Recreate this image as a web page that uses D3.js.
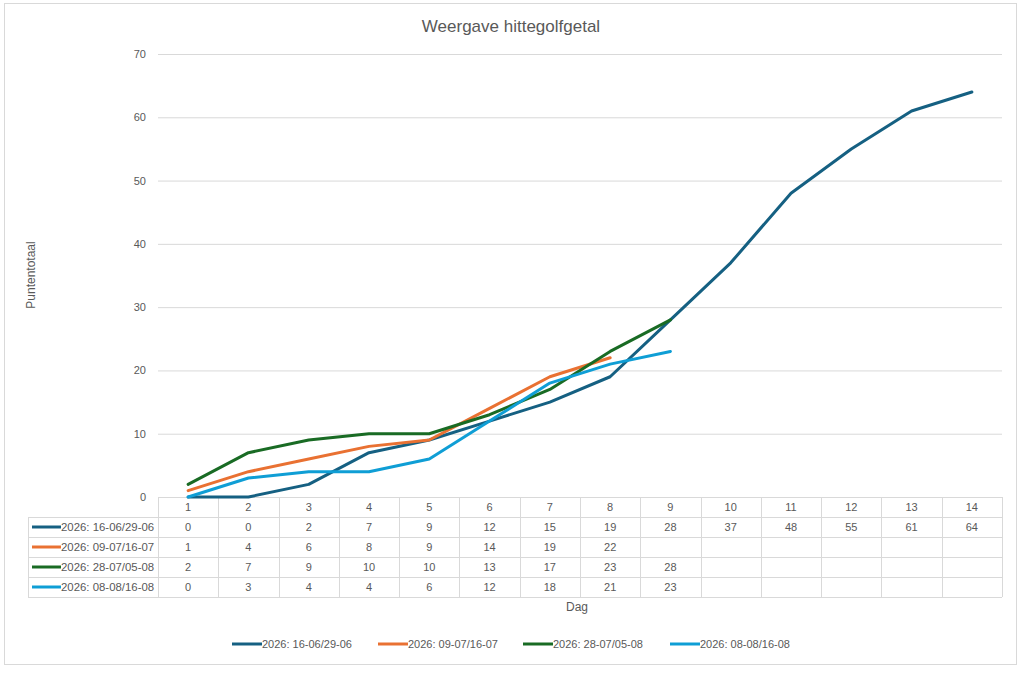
<!DOCTYPE html>
<html>
<head>
<meta charset="utf-8">
<script src="https://cdn.jsdelivr.net/npm/d3@7"></script>
<style>
body { margin: 0; background: #fff; }
text { font-family: "Liberation Sans", Arial, sans-serif; fill: #595959; }
</style>
</head>
<body>
<svg id="chart" width="1024" height="673"></svg>
<script>
// days along the x axis
var days = [1,2,3,4,5,6,7,8,9,10,11,12,13,14];
var seriesNames = ["2026: 16-06/29-06","2026: 09-07/16-07","2026: 28-07/05-08","2026: 08-08/16-08"];
var seriesColors = ["#156082","#E97132","#196B24","#0F9ED5"];
var s1 = [0,0,2,7,9,12,15,19,28,37,48,55,61,64];
var s2 = [1,4,6,8,9,14,19,22];
var s3 = [2,7,9,10,10,13,17,23,28];
var s4 = [0,3,4,4,6,12,18,21,23];
var yTicks = [0,10,20,30,40,50,60,70];

var allSeries = [s1, s2, s3, s4];

var svg = d3.select("#chart");

// outer chart border
svg.append("rect")
  .attr("x", 4.5).attr("y", 3.5)
  .attr("width", 1012).attr("height", 661)
  .attr("fill", "#fff").attr("stroke", "#d9d9d9");

var left = 158, right = 1002;
var x = d3.scaleBand().domain(days).range([left, right]);
var y = d3.scaleLinear().domain([0, 70]).range([497, 54]);

// gridlines
svg.append("g").selectAll("line")
  .data(yTicks.slice(1))
  .join("line")
  .attr("x1", left).attr("x2", right)
  .attr("y1", d => y(d) + 0.5).attr("y2", d => y(d) + 0.5)
  .attr("stroke", "#d9d9d9");

// y axis labels
var yAxis = d3.axisLeft(y).tickValues(yTicks).tickSize(0).tickPadding(12);
var gy = svg.append("g").attr("transform", "translate(" + left + ",0)").call(yAxis);
gy.select(".domain").remove();
gy.selectAll("text").style("font-size", "11px").attr("fill", "#595959")
  .attr("font-family", "Liberation Sans, Arial, sans-serif");

// table
var rowTop = 497, rowH = 20;
var tableLeft = 28;
var tbl = svg.append("g");
var gridColor = "#d9d9d9";

// horizontal lines
tbl.append("line").attr("x1", left).attr("x2", right)
  .attr("y1", rowTop + 0.5).attr("y2", rowTop + 0.5).attr("stroke", gridColor);
for (var r = 1; r <= 5; r++) {
  tbl.append("line").attr("x1", tableLeft).attr("x2", right)
    .attr("y1", rowTop + r * rowH + 0.5).attr("y2", rowTop + r * rowH + 0.5)
    .attr("stroke", gridColor);
}
// vertical lines
tbl.append("line").attr("x1", tableLeft + 0.5).attr("x2", tableLeft + 0.5)
  .attr("y1", rowTop + rowH).attr("y2", rowTop + 5 * rowH).attr("stroke", gridColor);
days.forEach(function(d) {
  var xx = Math.round(x(d)) + 0.5;
  tbl.append("line").attr("x1", xx).attr("x2", xx)
    .attr("y1", rowTop).attr("y2", rowTop + 5 * rowH).attr("stroke", gridColor);
});
tbl.append("line").attr("x1", right + 0.5).attr("x2", right + 0.5)
  .attr("y1", rowTop).attr("y2", rowTop + 5 * rowH).attr("stroke", gridColor);

// header row: day numbers
tbl.selectAll("text.day").data(days).join("text")
  .attr("class", "day")
  .attr("x", d => x(d) + x.bandwidth() / 2)
  .attr("y", rowTop + rowH / 2 + 4)
  .attr("text-anchor", "middle")
  .style("font-size", "11px")
  .text(d => d);

// data rows
allSeries.forEach(function(s, i) {
  var cy = rowTop + (i + 1) * rowH + rowH / 2 + 4;
  tbl.append("line")
    .attr("x1", 32).attr("x2", 61)
    .attr("y1", cy - 4).attr("y2", cy - 4)
    .attr("stroke", seriesColors[i]).attr("stroke-width", 3);
  tbl.append("text").attr("x", 61).attr("y", cy)
    .style("font-size", "11.4px").text(seriesNames[i]);
  tbl.selectAll("text.v" + i).data(s).join("text")
    .attr("class", "v" + i)
    .attr("x", (d, j) => x(days[j]) + x.bandwidth() / 2)
    .attr("y", cy)
    .attr("text-anchor", "middle")
    .style("font-size", "11px")
    .text(d => d);
});

// lines
var line = d3.line()
  .x((d, j) => x(days[j]) + x.bandwidth() / 2)
  .y(d => y(d));

allSeries.forEach(function(s, i) {
  svg.append("path")
    .datum(s)
    .attr("d", line)
    .attr("fill", "none")
    .attr("stroke", seriesColors[i])
    .attr("stroke-width", 3)
    .attr("stroke-linejoin", "round")
    .attr("stroke-linecap", "round");
});

// title
svg.append("text").attr("x", 511).attr("y", 32)
  .attr("text-anchor", "middle").style("font-size", "17px")
  .text("Weergave hittegolfgetal");

// axis titles
svg.append("text").attr("x", 577).attr("y", 611)
  .attr("text-anchor", "middle").style("font-size", "12px")
  .text("Dag");
svg.append("text")
  .attr("transform", "translate(35,275) rotate(-90)")
  .attr("text-anchor", "middle").style("font-size", "12px")
  .text("Puntentotaal");

// legend
var legendX = [232, 378, 523, 670];
seriesNames.forEach(function(n, i) {
  var g = svg.append("g").attr("transform", "translate(" + legendX[i] + ",644)");
  g.append("line").attr("x1", 0).attr("x2", 30).attr("y1", 0).attr("y2", 0)
    .attr("stroke", seriesColors[i]).attr("stroke-width", 3);
  g.append("text").attr("x", 30).attr("y", 4).style("font-size", "11px").text(n);
});
</script>
</body>
</html>
